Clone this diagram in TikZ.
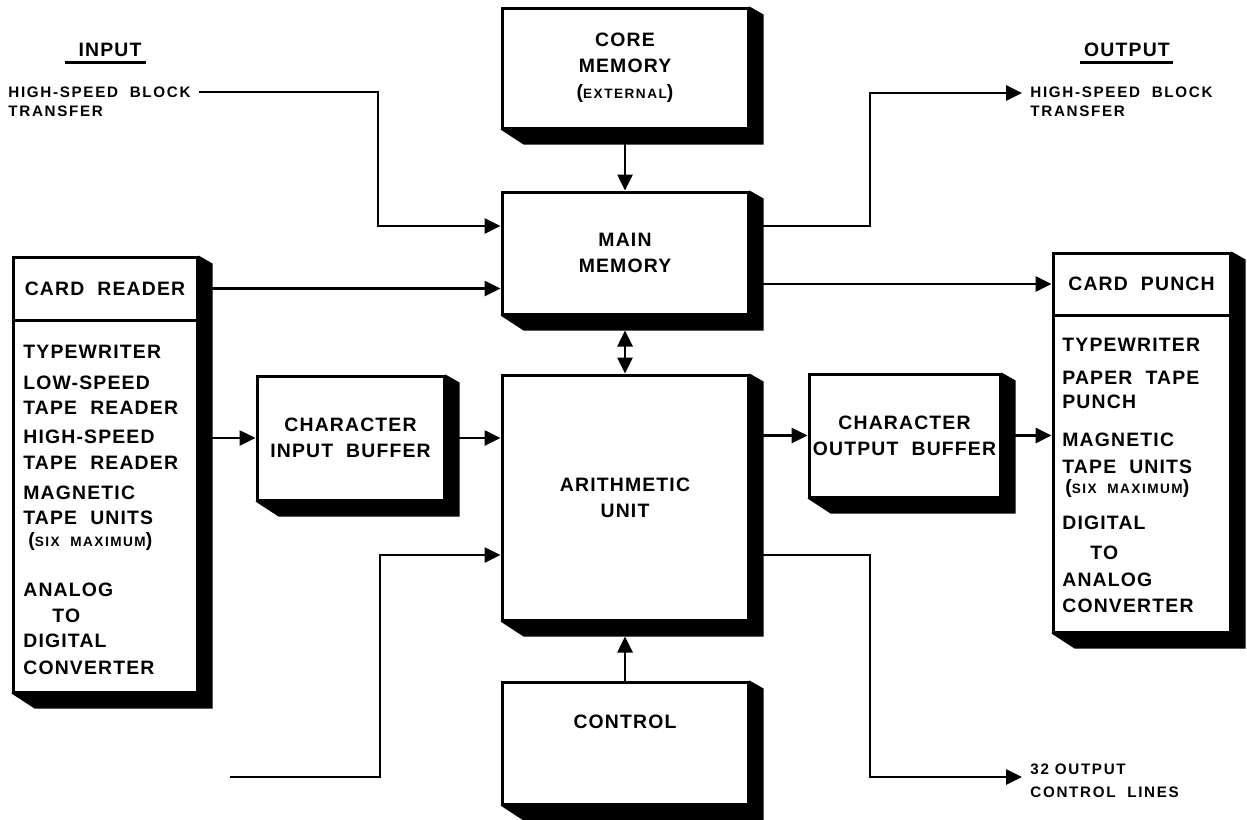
\documentclass[tikz,border=0pt]{standalone}
\usepackage{fontspec}
\setmainfont{Liberation Sans}
\newfontfamily\labfam{Liberation Sans}[LetterSpace=6]
\newfontfamily\smallfam{Liberation Sans}[LetterSpace=11]
\newcommand\biglab{\labfam\bfseries\fontsize{9.7}{13}\selectfont}
\newcommand\smlab{\smallfam\bfseries\fontsize{7.6}{9}\selectfont}
\newcommand\tinylab{\smallfam\bfseries\fontsize{6.8}{9}\selectfont}
\newcommand\paren[1]{({\tinylab #1})}
\usetikzlibrary{arrows.meta}
\pgfdeclarelayer{bg}
\pgfsetlayers{bg,main}
\tikzset{
  blockbox/.style={draw, line width=1.5pt, fill=white, inner sep=0pt, align=center, font=\biglab},
  conn/.style={line width=1.3pt},
  arr/.style={conn, -{Triangle[length=8pt,width=7.5pt]}},
  dblarr/.style={conn, {Triangle[length=8pt,width=7.5pt]}-{Triangle[length=8pt,width=7.5pt]}},
  smalltext/.style={font=\smlab, anchor=west, inner sep=0pt},
  itemtext/.style={font=\biglab, anchor=west, inner sep=0pt},
  headtext/.style={font=\biglab, inner sep=0pt},
}
\begin{document}
\begin{tikzpicture}[x=0.5pt,y=-0.5pt]
\useasboundingbox (0,0) rectangle (1247,819);

% ---- blocks
\node[blockbox, minimum width=123pt, minimum height=60pt] (core) at (625,68) {CORE\\MEMORY\\\paren{EXTERNAL}};
\node[blockbox, minimum width=123pt, minimum height=61pt] (main) at (625,253) {MAIN\\MEMORY};
\node[blockbox, minimum width=123pt, minimum height=122.5pt] (arith) at (625,497.5) {ARITHMETIC\\UNIT};
\node[blockbox, minimum width=123pt, minimum height=61pt] (control) at (625,743) {};
\node[headtext] (controltext) at (625,722) {CONTROL};
\node[blockbox, minimum width=93.5pt, minimum height=62pt] (charin) at (350.5,438) {CHARACTER\\INPUT\ \ BUFFER};
\node[blockbox, minimum width=95.5pt, minimum height=61.5pt] (charout) at (904.5,435.5) {CHARACTER\\OUTPUT\ \ BUFFER};

\node[blockbox, minimum width=92pt, minimum height=31.5pt] (readerhead) at (105,288.5) {CARD\ \ READER};
\node[blockbox, minimum width=92pt, minimum height=186pt] (readerlist) at (105,506) {};
\node[blockbox, minimum width=88.5pt, minimum height=31pt] (punchhead) at (1141.5,284) {CARD\ \ PUNCH};
\node[blockbox, minimum width=88.5pt, minimum height=158.5pt] (punchlist) at (1141.5,473.5) {};

% ---- shadows
\begin{pgfonlayer}{bg}
\foreach \a/\b in {core/core, main/main, arith/arith, control/control, charin/charin, charout/charout, readerhead/readerlist, punchhead/punchlist}
  \fill (\a.north east) -- ++(14,8) -- ([shift={(14,15)}]\b.south east) -- ([shift={(23,15)}]\b.south west) -- (\b.south west) -- cycle;
\end{pgfonlayer}

% ---- list texts
\foreach \t/\xx/\yy [count=\i] in {TYPEWRITER/23/352, LOW-SPEED/23/383, TAPE\ \ READER/23/408, HIGH-SPEED/23/437, TAPE\ \ READER/23/463, MAGNETIC/23/493, TAPE\ \ UNITS/23/518, \paren{SIX\ \ MAXIMUM}/28/541, ANALOG/23/590, TO/52/616, DIGITAL/23/641, CONVERTER/23/668}
  \node[itemtext] (li\i) at (\xx,\yy) {\t};
\foreach \t/\xx/\yy [count=\i] in {TYPEWRITER/1062/345, PAPER\ \ TAPE/1062/378, PUNCH/1062/402, MAGNETIC/1062/440, TAPE\ \ UNITS/1062/467, \paren{SIX\ \ MAXIMUM}/1065/488, DIGITAL/1062/523, TO/1090/553, ANALOG/1062/580, CONVERTER/1062/606}
  \node[itemtext] (ri\i) at (\xx,\yy) {\t};

% ---- side labels
\node[headtext] (inlab) at (110,50) {INPUT};
\draw[line width=1.3pt] ([shift={(-13,6)}]inlab.base west) -- ([shift={(4,6)}]inlab.base east);
\node[headtext] (outlab) at (1127,50) {OUTPUT};
\draw[line width=1.3pt] ([shift={(-4,6)}]outlab.base west) -- ([shift={(3,6)}]outlab.base east);

\node[smalltext] (hsbLa) at (8,92) {HIGH-SPEED\ \ BLOCK};
\node[smalltext] (hsbLb) at (8,111) {TRANSFER};
\node[smalltext] (hsbRa) at (1030,92) {HIGH-SPEED\ \ BLOCK};
\node[smalltext] (hsbRb) at (1030,111) {TRANSFER};
\node[smalltext] (outA) at (1030,769) {32\ OUTPUT};
\node[smalltext] (outB) at (1030,792) {CONTROL\ \ LINES};

% ---- junction coordinates
\coordinate (lj) at (378,226);
\coordinate (rj) at (870,226);
\coordinate (rtip) at (1022,93);
\coordinate (bl) at (230,777);
\coordinate (bj) at (380,555);
\coordinate (brj) at (870,555);
\coordinate (btip) at (1022,777);

% ---- connectors
\draw[arr] (core.south) -- (main.north);
\draw[arr] ([xshift=4pt]hsbLa.east) -| (lj) -- (lj -| main.west);
\draw[arr] (readerhead.east) -- (readerhead.east -| main.west);
\draw[arr] (rj -| main.east) -- (rj) |- (rtip);
\draw[arr] (main.east |- punchhead.west) -- (punchhead.west);
\draw[dblarr] ([yshift=-7.5pt]main.south) -- (arith.north);
\draw[arr] (readerlist.east |- charin.west) -- (charin.west);
\draw[arr] (charin.east) -- (charin.east -| arith.west);
\draw[arr] (arith.east |- charout.west) -- (charout.west);
\draw[arr] (charout.east) -- (charout.east -| punchlist.west);
\draw[arr] (bl) -| (bj) -- (bj -| arith.west);
\draw[arr] (brj -| arith.east) -- (brj) |- (btip);
\draw[arr] (control.north) -- ([yshift=-7.5pt]arith.south);
\end{tikzpicture}
\end{document}
